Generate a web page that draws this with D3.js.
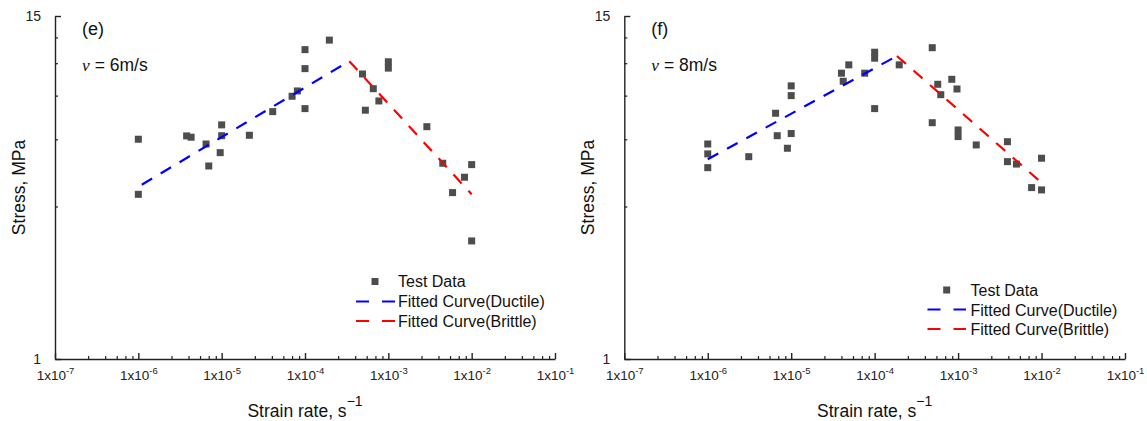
<!DOCTYPE html>
<html>
<head>
<meta charset="utf-8">
<script src="https://cdn.jsdelivr.net/npm/d3@7"></script>
<style>
  html, body { margin: 0; padding: 0; background: #fff; }
  svg { display: block; font-family: Arial, "Liberation Sans", sans-serif; }
</style>
</head>
<body>
<svg id="chart" width="1147" height="421"></svg>
<script>
// ---------- data ----------
const panelLabels = ["(e)", "(f)"];
const speedLabels = ["6m/s", "8m/s"];

const eStrain = [1e-6, 1e-6, 3.8e-6, 4.3e-6, 6.5e-6, 7.0e-6, 1e-5, 1e-5, 9.6e-6, 2.15e-5,
  4.1e-5, 7.0e-5, 8.1e-5, 1e-4, 1e-4, 1e-4, 1.96e-4, 4.9e-4, 6.6e-4, 7.7e-4,
  5.3e-4, 1e-3, 1e-3, 2.9e-3, 4.5e-3, 1e-2, 8.2e-3, 5.9e-3, 1e-2];
const eStress = [5.67, 3.67, 5.82, 5.76, 5.46, 4.59, 6.35, 5.83, 5.10, 5.85,
  7.05, 7.96, 8.3, 11.5, 9.9, 7.22, 12.4, 9.49, 8.45, 7.67,
  7.13, 10.45, 9.94, 6.26, 4.69, 4.64, 4.20, 3.72, 2.54];

const fStrain = [1e-6, 1e-6, 1e-6, 3.1e-6, 6.5e-6, 6.8e-6, 9.0e-6, 1e-5, 1e-5, 1e-5,
  4.0e-5, 4.2e-5, 4.9e-5, 7.6e-5, 1e-4, 1e-4, 1e-4, 1.97e-4, 4.9e-4, 5.7e-4,
  6.2e-4, 4.9e-4, 8.4e-4, 9.7e-4, 1e-3, 1e-3, 1.65e-3, 3.9e-3, 3.9e-3, 5.0e-3,
  1e-2, 7.6e-3, 1e-2];
const fStress = [5.46, 5.05, 4.53, 4.94, 6.96, 5.83, 5.28, 8.64, 8.0, 5.93,
  9.55, 8.96, 10.2, 9.55, 11.27, 10.75, 7.22, 10.2, 11.68, 8.75,
  8.06, 6.46, 9.10, 8.43, 6.10, 5.79, 5.42, 5.56, 4.75, 4.66,
  4.88, 3.87, 3.80];

// fitted lines (endpoints, straight in log-log)
const eDuctileX = [1.1e-6, 3.4e-4], eDuctileY = [3.96, 10.5];
const eBrittleX = [3.4e-4, 1e-2],   eBrittleY = [10.5, 3.67];
const fDuctileX = [1e-6, 1.85e-4],  fDuctileY = [4.84, 10.94];
const fBrittleX = [1.85e-4, 1e-2],  fBrittleY = [10.94, 4.02];

const xMajorExp = [-7, -6, -5, -4, -3, -2, -1];
const xMinorMult = [2.5, 4, 5.5, 7, 8.5];
const yMajorTicks = [1, 15];
const yMinorTicks = [1 + 14 / 6, 1 + 28 / 6, 1 + 42 / 6, 1 + 56 / 6, 1 + 70 / 6];

const legendLabels = ["Test Data", "Fitted Curve(Ductile)", "Fitted Curve(Brittle)"];

// ---------- layout ----------
const panels = [
  { x0: 55, x1: 555, label: panelLabels[0], speed: speedLabels[0],
    sx: eStrain, sy: eStress, dX: eDuctileX, dY: eDuctileY, bX: eBrittleX, bY: eBrittleY,
    legend: { mx: 375, my: 281.5, lx0: 356, lx1: 395, tx: 398, ty: [287, 307, 326.5], ly: [301.5, 321] } },
  { x0: 624.3, x1: 1125, label: panelLabels[1], speed: speedLabels[1],
    sx: fStrain, sy: fStress, dX: fDuctileX, dY: fDuctileY, bX: fBrittleX, bY: fBrittleY,
    legend: { mx: 946.7, my: 290, lx0: 927.5, lx1: 966, tx: 970.5, ty: [295.5, 315.5, 335], ly: [309.5, 329] } }
];
const yTop = 16, yBot = 359;

const svg = d3.select("#chart");
const markColor = "#4d4d4d";
const axisColor = "#222";

panels.forEach(p => {
  const x = d3.scaleLog().domain([1e-7, 1e-1]).range([p.x0, p.x1]);
  const y = d3.scaleLog().domain([1, 15]).range([yBot, yTop]);
  const g = svg.append("g");

  // x minor ticks
  const xMinor = [];
  xMajorExp.slice(0, -1).forEach(e => xMinorMult.forEach(m => xMinor.push(m * Math.pow(10, e))));
  g.append("g").attr("transform", `translate(0,${yBot})`)
    .call(d3.axisBottom(x).tickValues(xMinor).tickSize(-3).tickFormat(""))
    .call(a => a.select(".domain").remove())
    .call(a => a.selectAll("line").attr("stroke", axisColor).attr("stroke-width", 1.2));

  // x major
  const xAx = g.append("g").attr("transform", `translate(0,${yBot})`)
    .call(d3.axisBottom(x).tickValues(xMajorExp.map(e => Math.pow(10, e))).tickSize(-6).tickPadding(0).tickSizeOuter(0));
  xAx.select(".domain").attr("stroke", axisColor).attr("stroke-width", 1.4);
  xAx.selectAll("line").attr("stroke", axisColor).attr("stroke-width", 1.4);
  xAx.selectAll("text").each(function (d) {
    const t = d3.select(this);
    const ex = Math.round(Math.log10(d));
    t.text(null).attr("y", 0).attr("dy", null)
      .attr("transform", "translate(0,21)")
      .attr("fill", "#222").attr("font-size", "13.5px")
      .attr("font-family", 'Arial, "Liberation Sans", sans-serif');
    t.append("tspan").text("1x10");
    t.append("tspan").attr("dy", -6).attr("font-size", "9.5px").text(String(ex));
  });

  // y minor ticks
  g.append("g").attr("transform", `translate(${p.x0},0)`)
    .call(d3.axisLeft(y).tickValues(yMinorTicks).tickSize(-3).tickFormat(""))
    .call(a => a.select(".domain").remove())
    .call(a => a.selectAll("line").attr("stroke", axisColor).attr("stroke-width", 1.2));

  // y major
  const yAx = g.append("g").attr("transform", `translate(${p.x0},0)`)
    .call(d3.axisLeft(y).tickValues(yMajorTicks).tickSize(-6).tickPadding(14).tickSizeOuter(0).tickFormat(d3.format("d")));
  yAx.select(".domain").attr("stroke", axisColor).attr("stroke-width", 1.4);
  yAx.selectAll("line").attr("stroke", axisColor).attr("stroke-width", 1.4);
  yAx.selectAll("text").attr("font-size", "14px").attr("fill", "#222")
    .attr("font-family", 'Arial, "Liberation Sans", sans-serif');

  // data points
  const pts = p.sx.map((v, i) => [v, p.sy[i]]);
  g.append("g").selectAll("rect").data(pts).join("rect")
    .attr("x", d => x(d[0]) - 3.5).attr("y", d => y(d[1]) - 3.5)
    .attr("width", 7).attr("height", 7).attr("fill", markColor);

  // fitted lines
  const line = d3.line().x(d => x(d[0])).y(d => y(d[1]));
  g.append("path").datum(p.dX.map((v, i) => [v, p.dY[i]]))
    .attr("d", line).attr("fill", "none").attr("stroke", "#0000ff")
    .attr("stroke-width", 2.2).attr("stroke-dasharray", "12,10");
  g.append("path").datum(p.bX.map((v, i) => [v, p.bY[i]]))
    .attr("d", line).attr("fill", "none").attr("stroke", "#ff0000")
    .attr("stroke-width", 2.2).attr("stroke-dasharray", "12,10");

  // panel label
  g.append("text").attr("x", p.x0 + 27).attr("y", 35).attr("font-size", "18px").attr("fill", "#111").text(p.label);
  const sp = g.append("text").attr("x", p.x0 + 27).attr("y", 71).attr("font-size", "17.5px").attr("fill", "#111");
  sp.append("tspan").attr("font-family", '"Liberation Serif", "Times New Roman", serif').attr("font-style", "italic").text("v");
  sp.append("tspan").text(" = " + p.speed);

  // axis titles
  const xt = g.append("text").attr("x", (p.x0 + p.x1) / 2).attr("y", 417)
    .attr("text-anchor", "middle").attr("font-size", "17.5px").attr("fill", "#111");
  xt.append("tspan").text("Strain rate, s");
  xt.append("tspan").attr("dy", -11).attr("font-size", "14px").text("\u22121");

  g.append("text").attr("transform", `translate(${p.x0 - 30},${(yTop + yBot) / 2}) rotate(-90)`)
    .attr("text-anchor", "middle").attr("font-size", "17.5px").attr("fill", "#111")
    .text("Stress, MPa");

  // legend
  const L = p.legend;
  g.append("rect").attr("x", L.mx - 3.5).attr("y", L.my - 3.5).attr("width", 7).attr("height", 7).attr("fill", markColor);
  const lineCols = ["#0000ff", "#ff0000"];
  L.ly.forEach((ly, i) => {
    g.append("line").attr("x1", L.lx0).attr("x2", L.lx1).attr("y1", ly).attr("y2", ly)
      .attr("stroke", lineCols[i]).attr("stroke-width", 2.2).attr("stroke-dasharray", "13,13");
  });
  legendLabels.forEach((t, i) => {
    g.append("text").attr("x", L.tx).attr("y", L.ty[i]).attr("font-size", "16px").attr("fill", "#111").text(t);
  });
});
</script>
</body>
</html>
